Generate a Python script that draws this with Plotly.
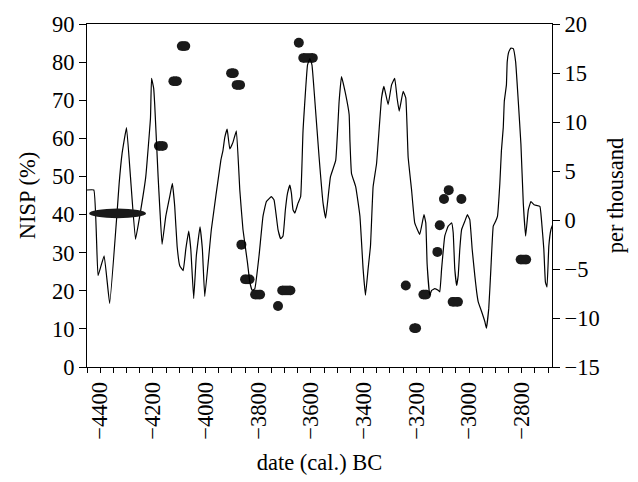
import plotly.graph_objects as go

# ---- line series (per thousand, right axis) ----
line_years = [-4450, -4424, -4408, -4385, -4364, -4336, -4328, -4317, -4300, -4285, -4266, -4250, -4227,
              -4209, -4205, -4197, -4193, -4180, -4174, -4165, -4151, -4136, -4126, -4117, -4108, -4098,
              -4085, -4075, -4064, -4056, -4045, -4035, -4021, -4012, -4003, -3978, -3942, -3934, -3927,
              -3918, -3908, -3896, -3883, -3870, -3858, -3841, -3832, -3823, -3813, -3797, -3782, -3769,
              -3750, -3740, -3725, -3715, -3706, -3697, -3689, -3680, -3674, -3668, -3661, -3649, -3639,
              -3630, -3613, -3604, -3596, -3585, -3569, -3554, -3544, -3526, -3506, -3493, -3484, -3468,
              -3455, -3452, -3446, -3430, -3414, -3402, -3393, -3383, -3374, -3364, -3351, -3332, -3323,
              -3307, -3294, -3282, -3273, -3265, -3250, -3240, -3231, -3218, -3206, -3187, -3171, -3164,
              -3159, -3149, -3142, -3130, -3117, -3111, -3104, -3092, -3079, -3066, -3060, -3054, -3047,
              -3041, -3035, -3028, -3016, -3006, -2997, -2988, -2978, -2971, -2965, -2952, -2940, -2934,
              -2925, -2917, -2908, -2899, -2892, -2883, -2877, -2870, -2866, -2858, -2855, -2849, -2841,
              -2832, -2823, -2813, -2803, -2794, -2785, -2775, -2765, -2753, -2731, -2725, -2716, -2710,
              -2704, -2697, -2689, -2680]
line_values = [3.06, 3.06, -5.67, -3.65, -8.52, 0.71, 3.73, 6.75, 9.43, 4.40, -1.97, 0.37, 4.40,
               10.44, 14.46, 13.46, 11.78, 4.40, 1.38, -2.48, 0.37, 2.39, 3.73, 1.38, -2.65, -4.66,
               -5.16, -2.98, -1.14, -2.98, -8.01, -3.65, -0.70, -2.98, -7.80, -0.97, 6.08, 7.08, 8.43,
               9.27, 7.25, 7.92, 9.10, 3.06, -0.97, -4.32, -6.34, -7.18, -7.01, -3.65, 0.37, 1.88,
               2.39, 2.05, -0.97, -1.91, -1.64, 1.04, 2.72, 3.56, 2.72, 1.04, 0.71, 1.72, 2.39,
               9.10, 15.81, 16.48, 15.81, 12.12, 6.41, 1.72, 0.20, 4.40, 6.08, 12.12, 14.63, 12.79,
               10.77, 8.09, 4.74, 3.39, 0.37, -4.99, -7.68, -4.99, -2.65, 3.39, 5.74, 12.45, 13.63,
               11.78, 13.79, 14.46, 12.45, 11.11, 13.12, 12.45, 6.41, 3.06, -0.30, -1.47, 0.54, -0.30,
               -4.49, -7.68, -7.18, -7.01, -7.18, -7.34, -4.99, -1.64, -0.63, -0.30, -1.30, -4.99, -6.67,
               -5.67, -2.98, -0.97, -0.13, 0.54, 0.04, -2.98, -5.67, -7.34, -8.35, -9.36, -10.36, -11.03,
               -9.02, -4.99, -0.63, -0.13, 0.37, 3.73, 7.08, 9.43, 12.12, 13.79, 16.14, 17.15, 17.55,
               17.48, 16.14, 12.12, 7.75, 1.72, -1.64, 1.04, 1.88, 1.55, 1.38, 0.04, -2.98, -6.34,
               -6.84, -2.65, -0.97, -0.30]

# ---- NISP dated ranges (left axis) ----
range_start = [-4178, -4123, -4091, -3904, -3883, -3851, -3813, -3710, -3630, -3174, -3209, -3063, -2805]
range_end = [-4161, -4108, -4076, -3892, -3868, -3832, -3792, -3677, -3592, -3162, -3200, -3041, -2782]
range_nisp = [58, 75, 84.2, 77.1, 74.0, 23.0, 19.0, 20.1, 81.1, 19.0, 10.2, 17.1, 28.2]

# ---- NISP single dates (left axis) ----
dot_years = [-3864, -3725, -3646, -3240, -3120, -3111, -3095, -3077, -3029]
dot_nisp = [32.1, 16.0, 85.1, 21.4, 30.2, 37.2, 44.1, 46.4, 44.1]

# ---- wide ellipse ----
ell_start, ell_end, ell_nisp = -4442, -4226, 40.3

x_tick_vals = [-4400, -4200, -4000, -3800, -3600, -3400, -3200, -3000, -2800]
x_tick_text = ["\u2212" + str(abs(v)) for v in x_tick_vals]

INK = "#1a1a1a"
FONT = "Liberation Serif"

fig = go.Figure()

fig.add_trace(go.Scatter(x=line_years, y=line_values, mode="lines", yaxis="y2",
                         line=dict(color="black", width=1.2, shape="spline", smoothing=0.3),
                         showlegend=False, hoverinfo="skip"))

for a, b, v in zip(range_start, range_end, range_nisp):
    fig.add_trace(go.Scatter(x=[a, b], y=[v, v], mode="lines+markers",
                             line=dict(color=INK, width=9.5),
                             marker=dict(color=INK, size=9.5, line=dict(width=0)),
                             showlegend=False, hoverinfo="skip"))

fig.add_trace(go.Scatter(x=dot_years, y=dot_nisp, mode="markers",
                         marker=dict(color=INK, size=10, line=dict(width=0)),
                         showlegend=False, hoverinfo="skip"))

fig.add_shape(type="circle", xref="x", yref="y", x0=ell_start, x1=ell_end,
              ysizemode="pixel", yanchor=ell_nisp, y0=-4.8, y1=4.8,
              fillcolor=INK, line=dict(width=0), layer="above")

axis_font = dict(family=FONT, size=22.5, color="black")

fig.update_layout(
    width=638, height=482,
    margin=dict(l=87, r=86, t=20, b=114),
    paper_bgcolor="white", plot_bgcolor="white",
    font=axis_font,
    xaxis=dict(range=[-4450, -2685], tickvals=x_tick_vals, ticktext=x_tick_text,
               tickangle=-90, ticks="outside", ticklen=5, tickwidth=1, tickcolor="black",
               minor=dict(ticks="outside", dtick=50, tick0=-4450, ticklen=5, tickwidth=1, tickcolor="black"),
               showline=True, linecolor="black", linewidth=1, mirror=True,
               showgrid=False, zeroline=False, tickfont=axis_font,
               title=dict(text="date (cal.) BC", font=axis_font, standoff=15)),
    yaxis=dict(range=[0, 90], dtick=10, tick0=0, ticks="outside", ticklen=7, tickwidth=1,
               tickcolor="black", showline=True, linecolor="black", linewidth=1,
               showgrid=False, zeroline=False, tickfont=axis_font,
               title=dict(text="NISP (%)", font=axis_font, standoff=10)),
    yaxis2=dict(range=[-15, 20], dtick=5, tick0=-15, overlaying="y", side="right",
                ticks="outside", ticklen=7, tickwidth=1, tickcolor="black",
                showline=True, linecolor="black", linewidth=1,
                showgrid=False, zeroline=False, tickfont=axis_font,
                title=dict(text="per thousand", font=axis_font, standoff=8)),
)

fig.write_html("out.html")
